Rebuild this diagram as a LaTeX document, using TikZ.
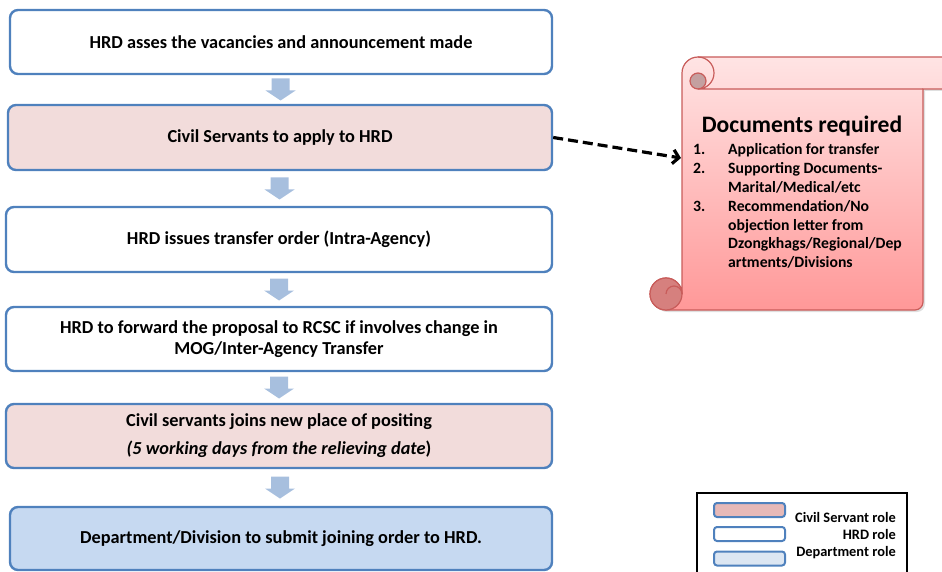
\documentclass[tikz,border=0pt]{standalone}
\usepackage{fontspec}
\setmainfont{Carlito}
\usetikzlibrary{calc,positioning,shapes,arrows.meta,shadows}

\definecolor{roleborder}{RGB}{79,129,189}
\definecolor{csfill}{RGB}{242,220,219}
\definecolor{deptfill}{RGB}{198,217,241}
\definecolor{flowblue}{RGB}{167,191,222}
\definecolor{keypink}{RGB}{230,185,184}
\definecolor{keyblue}{RGB}{220,230,242}
\definecolor{scrollline}{RGB}{200,92,90}
\definecolor{scrolltop}{RGB}{255,228,228}
\definecolor{scrollbot}{RGB}{255,152,152}
\definecolor{scrollcurl}{RGB}{214,128,126}
\definecolor{scrolldisc}{RGB}{196,160,160}

% block arrow between two stacked boxes
\newcommand{\flowarrow}[2]{%
  \fill[flowblue] ($(#1.south)!0.5!(#2.north)$) ++(-9,-11) -- ++(18,0) -- ++(0,12)
    -- ++(6,0) -- ++(-15,10) -- ++(-15,-10) -- ++(6,0) -- cycle;}

\begin{document}
\begin{tikzpicture}[x=1pt,y=-1pt,
	rolebox/.style={draw=roleborder,line width=2.4pt,rounded corners=8pt,align=center,
		inner sep=0pt,font=\fontsize{18.3}{21}\selectfont\bfseries},
	keybox/.style={draw=roleborder,line width=2pt,rounded corners=3pt,inner sep=0pt,
		minimum width=71pt,minimum height=14pt},
	keytext/.style={anchor=east,inner sep=0pt,font=\fontsize{14.4}{17}\selectfont\bfseries},
	linkarrow/.style={line width=3.2pt,dash pattern=on 10pt off 5pt,
		-{Straight Barb[length=6pt,width=14pt]}}
	]
	\useasboundingbox (0,0) rectangle (942,572);

	\node[rolebox,fill=white,minimum width=542pt,minimum height=64pt] (b1) at (281,42) {HRD asses the vacancies and announcement made};
	\node[rolebox,fill=csfill,minimum width=544pt,minimum height=65pt] (b2) at (280,137.5) {Civil Servants to apply to HRD};
	\node[rolebox,fill=white,minimum width=546pt,minimum height=65pt] (b3) at (279,239.5) {HRD issues transfer order (Intra-Agency)};
	\node[rolebox,fill=white,minimum width=546pt,minimum height=64pt] (b4) at (279,339) {HRD to forward the proposal to RCSC if involves change in\\MOG/Inter-Agency Transfer};
	\node[rolebox,fill=csfill,minimum width=546pt,minimum height=64pt] (b5) at (279,436) {Civil servants joins new place of positing\\[7pt]{\itshape(5 working days from the relieving date})};
	\node[rolebox,fill=deptfill,minimum width=542pt,minimum height=63pt] (b6) at (281,538.5) {Department/Division to submit joining order to HRD.};

	\flowarrow{b1}{b2}
	\flowarrow{b2}{b3}
	\flowarrow{b3}{b4}
	\flowarrow{b4}{b5}
	\flowarrow{b5}{b6}

	% scroll
	\draw[scrollline,line width=1.2pt,top color=scrolltop,bottom color=scrollbot,
		drop shadow={opacity=0.25,shadow xshift=2pt,shadow yshift=-2pt}]
		(682,73) arc[start angle=180,end angle=270,radius=16] -- (955,57) -- (955,89) -- (923,89)
		-- (923,302) arc[start angle=0,end angle=90,radius=8] -- (666,310)
		arc[start angle=90,end angle=360,radius=16] -- cycle;
	\draw[scrollline,line width=1.2pt,fill=scrolldisc] (698,81) circle[radius=8];
	\draw[scrollline,line width=1.2pt] (698,57) arc[start angle=-90,end angle=90,radius=16] -- (923,89);
	\draw[scrollline,line width=1.2pt,fill=scrollcurl] (666,294) circle[radius=16];
	\draw[scrollline,line width=1.2pt] (682,294) arc[start angle=0,end angle=-180,radius=8];

	\node[font=\fontsize{23.6}{28}\selectfont\bfseries] (doctitle) at (802,126) {Documents required};
	\node[anchor=base west,inner sep=0pt,font=\fontsize{15.7}{18.8}\selectfont\bfseries] (doclist) at (693,155)
		{\begin{tabular}[t]{@{}p{35pt}@{}l@{}}
		1. & Application for transfer\\
		2. & Supporting Documents-\\
		   & Marital/Medical/etc\\
		3. & Recommendation/No\\
		   & objection letter from\\
		   & Dzongkhags/Regional/Dep\\
		   & artments/Divisions
		\end{tabular}};

	\coordinate (docin) at (681,158);
	\draw[linkarrow] (b2.east) -- (docin);

	% legend
	\draw[line width=2.4pt] (697,493) rectangle (907,592);
	\node[keybox,fill=keypink] (kcs) at (749.5,510) {};
	\node[keybox,fill=white] (khrd) at (749.5,534) {};
	\node[keybox,fill=keyblue] (kdept) at (749.5,558.5) {};
	\node[keytext] (tcs) at (896,517) {Civil Servant role};
	\node[keytext] (thrd) at (896,534) {HRD role};
	\node[keytext] (tdept) at (896,553) {Department role};

\end{tikzpicture}
\end{document}
